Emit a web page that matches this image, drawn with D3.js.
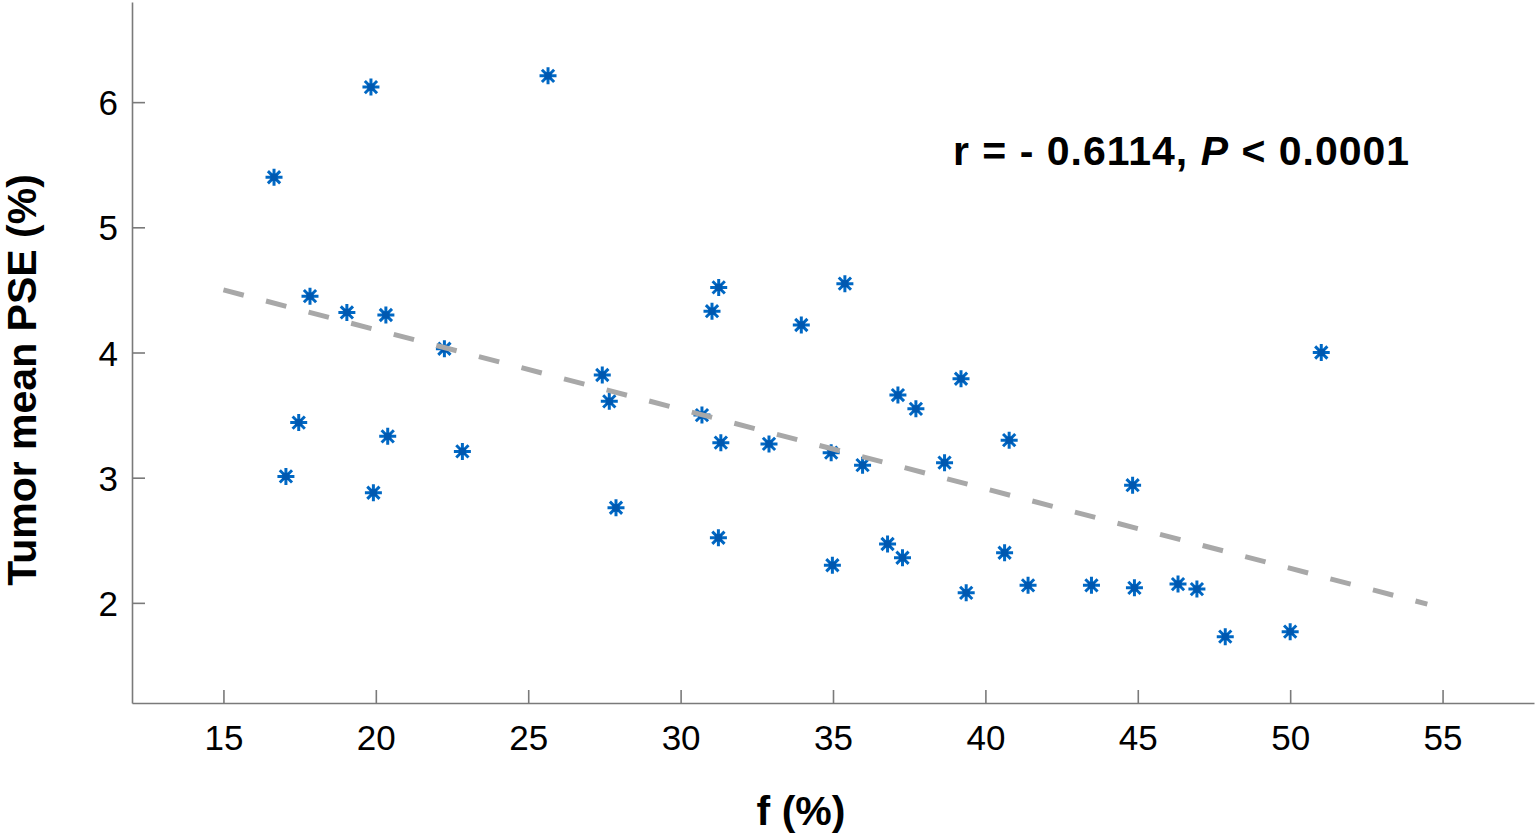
<!DOCTYPE html>
<html>
<head>
<meta charset="utf-8">
<script src="https://cdn.jsdelivr.net/npm/d3@7"></script>
<style>
  html, body { margin: 0; padding: 0; background: #fff; }
  svg { display: block; }
  text { font-family: "Liberation Sans", Arial, Helvetica, sans-serif; fill: #000; }
</style>
</head>
<body>
<svg id="chart" width="1535" height="838"></svg>
<script>
// ---- data ----
const fValues = [16.66, 17.47, 17.05, 17.84, 19.05, 19.84, 19.92, 20.33, 20.39, 22.25,
                 22.84, 25.65, 27.43, 27.66, 27.88, 30.70, 31.03, 31.25, 31.32, 31.24,
                 32.90, 33.96, 34.94, 35.39, 34.98, 35.97, 36.79, 37.13, 37.28, 37.72,
                 38.66, 39.20, 39.37, 40.63, 40.78, 41.40, 43.48, 44.83, 44.89, 46.32,
                 46.94, 47.87, 50.00, 51.02];
const pseValues = [5.40, 3.44, 3.01, 4.45, 4.32, 6.12, 2.88, 4.30, 3.33, 4.03,
                   3.21, 6.21, 3.82, 3.61, 2.76, 3.50, 4.33, 4.52, 3.28, 2.52,
                   3.27, 4.22, 3.20, 4.55, 2.30, 3.10, 2.47, 3.66, 2.36, 3.55,
                   3.12, 3.79, 2.08, 2.40, 3.30, 2.14, 2.14, 2.94, 2.12, 2.15,
                   2.11, 1.73, 1.77, 4.00];
const fitX = [15, 54.5];
const fitY = [4.50, 1.99];
const xTicks = [15, 20, 25, 30, 35, 40, 45, 50, 55];
const yTicks = [2, 3, 4, 5, 6];
const xDomain = [12, 58];
const yDomain = [1.2, 6.8];
const xTitle = "f (%)";
const yTitle = "Tumor mean PSE (%)";
const annotation = ["r = - 0.6114, ", "P", " < 0.0001"];

// ---- layout ----
const svg = d3.select("#chart");
const mLeft = 132, mRight = 1534, mTop = 2, mBottom = 703;
const x = d3.scaleLinear().domain(xDomain).range([mLeft, mRight]);
const y = d3.scaleLinear().domain(yDomain).range([mBottom, mTop]);
const axisColor = "#7a7a7a";

// axes (ticks pointing inward)
const xAxis = d3.axisBottom(x).tickValues(xTicks).tickSizeInner(-13).tickSizeOuter(0).tickPadding(0).tickFormat(d3.format("d"));
const yAxis = d3.axisLeft(y).tickValues(yTicks).tickSizeInner(-13).tickSizeOuter(0).tickPadding(0).tickFormat(d3.format("d"));

const gx = svg.append("g").attr("transform", `translate(0,${mBottom})`).call(xAxis);
gx.select(".domain").attr("stroke", axisColor).attr("stroke-width", 1.6);
gx.selectAll(".tick line").attr("stroke", axisColor).attr("stroke-width", 1.6);
gx.selectAll(".tick text").attr("font-size", 35).attr("y", 47).attr("dy", 0)
  .attr("fill", "#000").style("font-family", '"Liberation Sans", Arial, sans-serif');

const gy = svg.append("g").attr("transform", `translate(${mLeft},0)`).call(yAxis);
gy.select(".domain").attr("stroke", axisColor).attr("stroke-width", 1.6);
gy.selectAll(".tick line").attr("stroke", axisColor).attr("stroke-width", 1.6);
gy.selectAll(".tick text").attr("font-size", 35).attr("x", -14).attr("dy", "0.36em")
  .attr("fill", "#000").style("font-family", '"Liberation Sans", Arial, sans-serif');

// data points: asterisk markers
const pts = fValues.map((f, i) => ({ f, p: pseValues[i] }));
const r = 8.5, rd = r * 0.72;
const starPath = `M${-r},0L${r},0M0,${-r}L0,${r}M${-rd},${-rd}L${rd},${rd}M${-rd},${rd}L${rd},${-rd}`;
const gPts = svg.append("g");
gPts.selectAll("path").data(pts).join("path")
  .attr("transform", d => `translate(${x(d.f)},${y(d.p)})`)
  .attr("d", starPath)
  .attr("fill", "none")
  .attr("stroke", "#0068c4")
  .attr("stroke-width", 3);
gPts.selectAll("rect").data(pts).join("rect")
  .attr("x", d => x(d.f) - 3.5).attr("y", d => y(d.p) - 3.5)
  .attr("width", 7).attr("height", 7)
  .attr("fill", "#0058b0");

// regression line (dashed)
const line = d3.line().x(d => x(d[0])).y(d => y(d[1]));
svg.append("path")
  .datum(fitX.map((v, i) => [v, fitY[i]]))
  .attr("d", line)
  .attr("fill", "none")
  .attr("stroke", "#a8a8a8")
  .attr("stroke-width", 5)
  .attr("stroke-dasharray", "21,23");

// annotation
const ann = svg.append("text").attr("x", 953).attr("y", 165)
  .attr("font-size", 41).attr("font-weight", "bold")
  .attr("style", "letter-spacing:1px; white-space:pre");
ann.append("tspan").text(annotation[0]);
ann.append("tspan").text(annotation[1]).attr("font-style", "italic");
ann.append("tspan").text(annotation[2]);

// axis titles
svg.append("text").attr("x", 801).attr("y", 825).attr("text-anchor", "middle")
  .attr("font-size", 41).attr("font-weight", "bold").text(xTitle);
svg.append("text").attr("transform", "translate(36,380) rotate(-90)").attr("text-anchor", "middle")
  .attr("font-size", 41).attr("font-weight", "bold").text(yTitle);
</script>
</body>
</html>
